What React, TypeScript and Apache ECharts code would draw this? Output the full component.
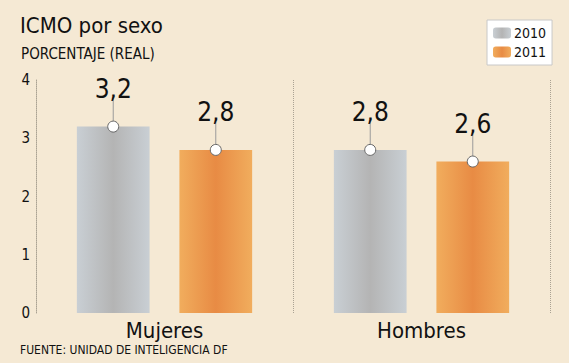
import React, { useEffect, useRef } from "react";
import * as echarts from "echarts";

const categories = ["Mujeres", "Hombres"];
const years = ["2010", "2011"];
const values2010 = [3.2, 2.8];
const values2011 = [2.8, 2.6];
const labels2010 = ["3,2", "2,8"];
const labels2011 = ["2,8", "2,6"];
const yTicks = [0, 1, 2, 3, 4];

const FONT = "'DejaVu Sans Condensed', 'DejaVu Sans', sans-serif";
const BAR_W = 0.283;
const BAR_GAP = 0.41;

const grayGrad = new echarts.graphic.LinearGradient(0, 0, 1, 0, [
  { offset: 0, color: "#c9cfd4" },
  { offset: 0.5, color: "#b4b4b4" },
  { offset: 1, color: "#c9cfd4" },
]);
const orangeGrad = new echarts.graphic.LinearGradient(0, 0, 1, 0, [
  { offset: 0, color: "#f1ad5d" },
  { offset: 0.5, color: "#e88b44" },
  { offset: 1, color: "#f1ad5d" },
]);

function markerSeries(vals: number[], labels: string[], side: number) {
  return {
    type: "custom",
    silent: true,
    z: 5,
    data: vals.map((v, i) => [i, v]),
    renderItem: (params: any, api: any) => {
      const idx = api.value(0);
      const val = api.value(1);
      const p = api.coord([idx, val]);
      const band = api.size([1, 0])[0];
      const off = ((BAR_W + BAR_W * BAR_GAP) / 2) * band * side;
      const x = p[0] + off;
      const y = p[1];
      return {
        type: "group",
        children: [
          {
            type: "line",
            shape: { x1: x, y1: y - 5, x2: x, y2: y - 28 },
            style: { stroke: "#9a9a9a", lineWidth: 1 },
          },
          {
            type: "circle",
            shape: { cx: x, cy: y, r: 5.5 },
            style: { fill: "#ffffff", stroke: "#666", lineWidth: 1 },
          },
          {
            type: "text",
            x: x,
            y: y - 25,
            style: {
              text: labels[params.dataIndex],
              fontFamily: FONT,
              fontSize: 26,
              fill: "#111",
              align: "center",
              verticalAlign: "bottom",
            },
          },
        ],
      };
    },
  };
}

export default function App() {
  const ref = useRef<HTMLDivElement>(null);
  useEffect(() => {
    if (!ref.current) return;
    const chart = echarts.init(ref.current, null, { renderer: "svg" });
    chart.setOption({
      animation: false,
      backgroundColor: "#f5e9d4",
      textStyle: { fontFamily: FONT },
      grid: { left: 36, right: 19, top: 80, bottom: 50 },
      legend: {
        data: years,
        orient: "vertical",
        left: 487,
        top: 20,
        padding: [6, 6, 6, 6],
        itemWidth: 18,
        itemHeight: 11,
        itemGap: 5,
        backgroundColor: "#ffffff",
        borderColor: "#c8c8c8",
        borderWidth: 1,
        textStyle: { fontFamily: FONT, fontSize: 14, color: "#111", padding: [0, 0, 0, -2] },
      },
      graphic: [
        {
          type: "text",
          left: 20,
          top: 14,
          style: { text: "ICMO por sexo", fontFamily: FONT, fontSize: 22, fill: "#111" },
        },
        {
          type: "text",
          left: 21,
          top: 46,
          style: { text: "PORCENTAJE (REAL)", fontFamily: FONT, fontSize: 15, fill: "#111" },
        },
        {
          type: "text",
          left: 20,
          top: 344,
          style: {
            text: "FUENTE: UNIDAD DE INTELIGENCIA DF",
            fontFamily: FONT,
            fontSize: 12,
            fill: "#111",
          },
        },
      ],
      xAxis: {
        type: "category",
        data: categories,
        axisLine: { show: false },
        axisTick: { show: false },
        axisLabel: { fontFamily: FONT, fontSize: 22, color: "#111", margin: 6 },
        splitLine: { show: true, lineStyle: { type: "dotted", color: "#aaa293", width: 1 } },
      },
      yAxis: {
        type: "value",
        min: yTicks[0],
        max: yTicks[yTicks.length - 1],
        interval: 1,
        axisLine: { show: true, lineStyle: { type: "dotted", color: "#aaa293" } },
        axisTick: { show: false },
        splitLine: { show: false },
        axisLabel: { fontFamily: FONT, fontSize: 15, color: "#111", margin: 6 },
      },
      series: [
        {
          name: years[0],
          type: "bar",
          data: values2010,
          barWidth: BAR_W * 100 + "%",
          barGap: BAR_GAP * 100 + "%",
          itemStyle: { color: grayGrad },
        },
        {
          name: years[1],
          type: "bar",
          data: values2011,
          barWidth: BAR_W * 100 + "%",
          itemStyle: { color: orangeGrad },
        },
        markerSeries(values2010, labels2010, -1),
        markerSeries(values2011, labels2011, 1),
      ],
    });
    return () => chart.dispose();
  }, []);
  return <div ref={ref} style={{ width: 569, height: 363, position: "absolute", left: 0, top: 0 }} />;
}
